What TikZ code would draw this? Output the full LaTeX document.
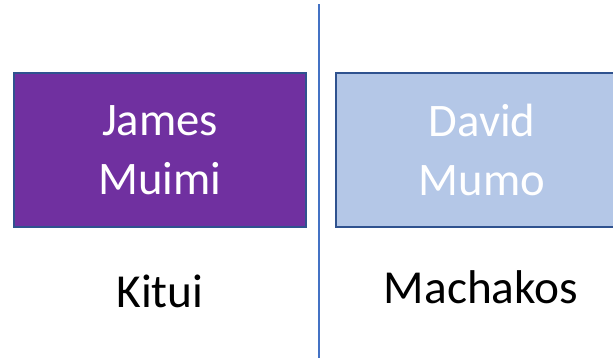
\documentclass[tikz,border=0pt]{standalone}
\usepackage{fontspec}
\setmainfont{Carlito}
\usepackage{xcolor}
\usetikzlibrary{positioning}
\definecolor{namepurple}{RGB}{112,48,160}
\definecolor{namelight}{RGB}{180,199,231}
\definecolor{nameedge}{RGB}{47,82,143}
\definecolor{divblue}{RGB}{68,114,196}

\begin{document}
\begin{tikzpicture}[x=0.75pt, y=-0.75pt,
    namebox/.style={rectangle, draw=nameedge, minimum width=219pt, minimum height=115.5pt,
        text=white, align=center, font=\fontsize{35}{44.5}\selectfont},
    place/.style={anchor=base, font=\fontsize{35.5}{42}\selectfont},
    divider/.style={draw=divblue, line width=0.8pt}]

    \useasboundingbox (0,0) rectangle (613,358);

    \node[namebox, fill=namepurple, line width=1.1pt] (james) at (160,150) {James\\Muimi};
    \node[namebox, fill=namelight, line width=1.8pt] (david) at (482,150) {David\\Mumo};
    \node[place] (kitui) at (160,307) {Kitui};
    \node[place] (machakos) at (481,303) {Machakos};

    \coordinate (divtop) at (319,4);
    \coordinate (divbot) at (319,358);
    \draw[divider] (divtop) -- (divbot);
\end{tikzpicture}
\end{document}
